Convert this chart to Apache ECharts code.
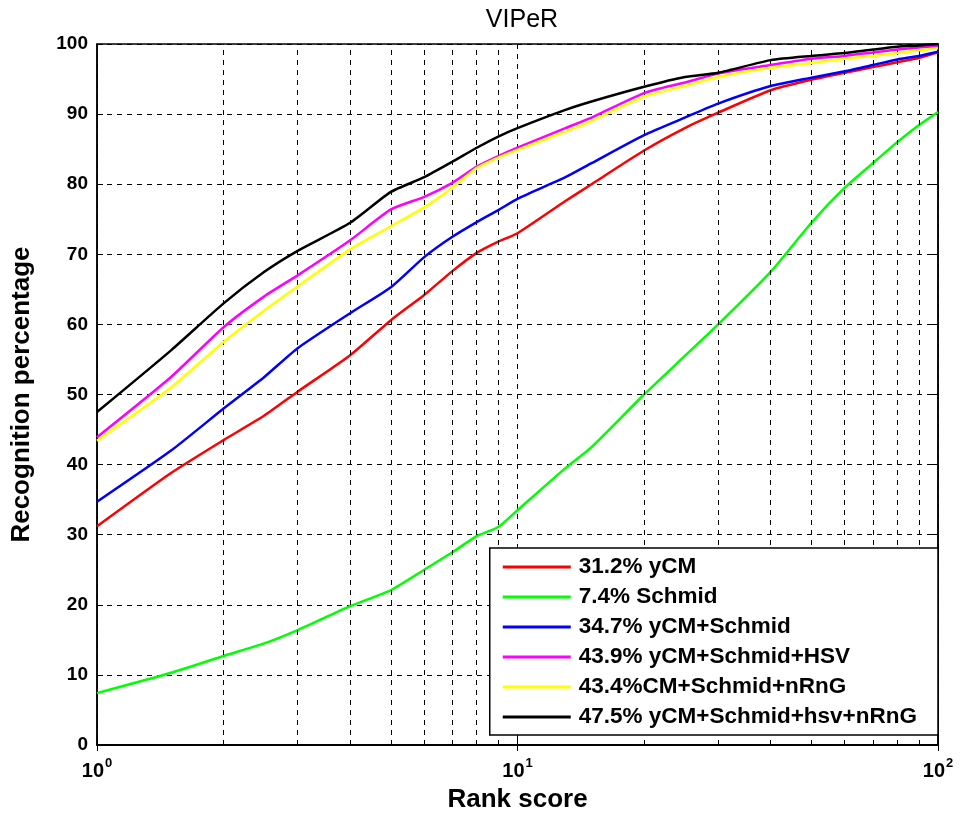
<!DOCTYPE html>
<html>
<head>
<meta charset="utf-8">
<script src="https://cdn.jsdelivr.net/npm/echarts@6/dist/echarts.min.js"></script>
<style>html,body{margin:0;padding:0;background:#fff;}#c{width:961px;height:816px;}</style>
</head>
<body>
<div id="c"></div>
<script>
const ranks = [1, 1.5, 2, 2.5, 3, 4, 5, 6, 7, 8, 9, 10, 13, 15, 20, 25, 30, 40, 50, 60, 70, 80, 90, 100];
const yCM      = [31.2, 38.8, 43.5, 47.0, 50.4, 55.6, 60.6, 64.2, 67.6, 70.2, 71.8, 73.0, 77.6, 80.0, 84.8, 88.0, 90.2, 93.4, 94.9, 95.9, 96.7, 97.4, 98.0, 98.8];
const schmid   = [7.4, 10.3, 12.7, 14.5, 16.4, 19.8, 22.1, 25.0, 27.5, 29.8, 31.1, 33.5, 39.5, 42.5, 50.0, 55.5, 60.0, 67.5, 74.5, 79.5, 83.0, 86.0, 88.4, 90.3];
const yCMSchmid = [34.7, 42.0, 48.0, 52.5, 56.6, 61.6, 65.3, 69.6, 72.5, 74.6, 76.3, 77.9, 81.0, 83.0, 87.0, 89.5, 91.5, 94.0, 95.2, 96.1, 97.0, 97.8, 98.3, 98.9];
const yCMSchmidHSV = [43.9, 52.5, 59.6, 64.0, 67.0, 72.0, 76.4, 78.2, 80.2, 82.5, 84.0, 85.2, 88.0, 89.5, 93.0, 94.5, 95.8, 97.0, 97.9, 98.3, 98.8, 99.2, 99.5, 99.7];
const cmSchmidNRnG = [43.4, 51.0, 57.5, 62.0, 65.4, 70.7, 74.0, 76.7, 79.5, 82.3, 83.8, 84.9, 87.5, 89.0, 92.5, 94.0, 95.3, 96.6, 97.3, 97.9, 98.3, 98.7, 99.1, 99.4];
const allFeat = [47.5, 56.3, 63.0, 67.5, 70.5, 74.5, 78.9, 81.0, 83.2, 85.2, 86.8, 88.0, 90.6, 91.8, 93.9, 95.3, 95.9, 97.7, 98.3, 98.7, 99.2, 99.6, 99.8, 100.0];
const seriesNames = ['31.2% yCM', '7.4% Schmid', '34.7% yCM+Schmid', '43.9% yCM+Schmid+HSV', '43.4%CM+Schmid+nRnG', '47.5% yCM+Schmid+hsv+nRnG'];
const seriesData = [yCM, schmid, yCMSchmid, yCMSchmidHSV, cmSchmidNRnG, allFeat];
const seriesColors = ['#ff0000', '#00ff00', '#0000ff', '#ff00ff', '#ffff00', '#000000'];
const minorX = [2, 3, 4, 5, 6, 7, 8, 9, 20, 30, 40, 50, 60, 70, 80, 90];
const yTicks = [0, 10, 20, 30, 40, 50, 60, 70, 80, 90, 100];

const FONT = 'Liberation Sans, Arial, sans-serif';
const chart = echarts.init(document.getElementById('c'), null, {renderer: 'canvas'});

const series = seriesNames.map((name, i) => ({
  name: name,
  type: 'line',
  data: ranks.map((r, j) => [r, seriesData[i][j]]),
  showSymbol: false,
  smooth: 0.2,
  lineStyle: {color: seriesColors[i], width: 2.5},
  itemStyle: {color: seriesColors[i]},
  z: 3 + i,
  animation: false
}));
series.push({
  name: 'grid-minor',
  type: 'line',
  data: [],
  silent: true,
  animation: false,
  markLine: {
    silent: true,
    symbol: 'none',
    label: {show: false},
    lineStyle: {color: '#000', type: [5, 5], width: 1},
    data: minorX.map(v => ({xAxis: v}))
  },
  z: 1
});

chart.setOption({
  animation: false,
  backgroundColor: '#fff',
  title: {
    text: 'VIPeR',
    left: 517,
    textAlign: 'center',
    top: 3,
    textStyle: {fontFamily: FONT, fontSize: 25, fontWeight: 'normal', color: '#000'}
  },
  grid: {left: 97, right: 23, top: 44, bottom: 71, containLabel: false, outerBoundsMode: 'none', show: true, borderColor: '#000', borderWidth: 1.5},
  legend: {
    data: seriesNames,
    orient: 'vertical',
    right: 23,
    bottom: 81,
    z: 100,
    backgroundColor: '#fff',
    borderColor: '#000',
    borderWidth: 1.5,
    borderRadius: 0,
    padding: [7, 21, 6, 13],
    itemGap: 6,
    itemWidth: 68,
    itemHeight: 3,
    icon: 'rect',
    textStyle: {fontFamily: FONT, fontSize: 22.5, fontWeight: 'bold', color: '#000', lineHeight: 24, padding: [0, 0, 0, 3]},
    selectedMode: false
  },
  xAxis: [{
    type: 'log',
    logBase: 10,
    min: 1,
    max: 100,
    name: 'Rank score',
    nameLocation: 'middle',
    nameGap: 42,
    nameTextStyle: {fontFamily: FONT, fontSize: 26, fontWeight: 'bold', color: '#000'},
    axisLine: {show: true, lineStyle: {color: '#000', width: 1.5}},
    axisTick: {show: true, inside: true, length: 6, lineStyle: {color: '#000'}},
    splitLine: {show: true, lineStyle: {color: '#000', type: [5, 5], width: 1}},
    axisLabel: {
      margin: 12,
      formatter: function (v) { return '{b|10}{s|' + Math.round(Math.log10(v)) + '}'; },
      rich: {
        b: {fontFamily: FONT, fontSize: 20, fontWeight: 'bold', color: '#000'},
        s: {fontFamily: FONT, fontSize: 13, fontWeight: 'bold', color: '#000', padding: [0, 0, 16, 1]}
      }
    }
  }, {
    type: 'log',
    logBase: 10,
    min: 1,
    max: 100,
    position: 'top',
    axisLine: {show: true, lineStyle: {color: '#000', width: 1.5}},
    axisTick: {show: true, inside: true, length: 6, lineStyle: {color: '#000'}},
    axisLabel: {show: false},
    splitLine: {show: false}
  }],
  yAxis: [{
    type: 'value',
    min: 0,
    max: 100,
    interval: 10,
    name: 'Recognition percentage',
    nameLocation: 'middle',
    nameGap: 62,
    nameTextStyle: {fontFamily: FONT, fontSize: 26, fontWeight: 'bold', color: '#000'},
    axisLine: {show: true, lineStyle: {color: '#000', width: 1.5}},
    axisTick: {show: true, inside: true, length: 6, lineStyle: {color: '#000'}},
    splitLine: {show: true, lineStyle: {color: '#000', type: [5, 5], width: 1}},
    axisLabel: {
      margin: 9,
      fontFamily: FONT, fontSize: 19, fontWeight: 'bold', color: '#000',
      formatter: function (v) { return yTicks.indexOf(v) >= 0 ? String(v) : ''; }
    }
  }, {
    type: 'value',
    min: 0,
    max: 100,
    interval: 10,
    position: 'right',
    axisLine: {show: true, lineStyle: {color: '#000', width: 1.5}},
    axisTick: {show: true, inside: true, length: 6, lineStyle: {color: '#000'}},
    axisLabel: {show: false},
    splitLine: {show: false}
  }],
  series: series
});
</script>
</body>
</html>
